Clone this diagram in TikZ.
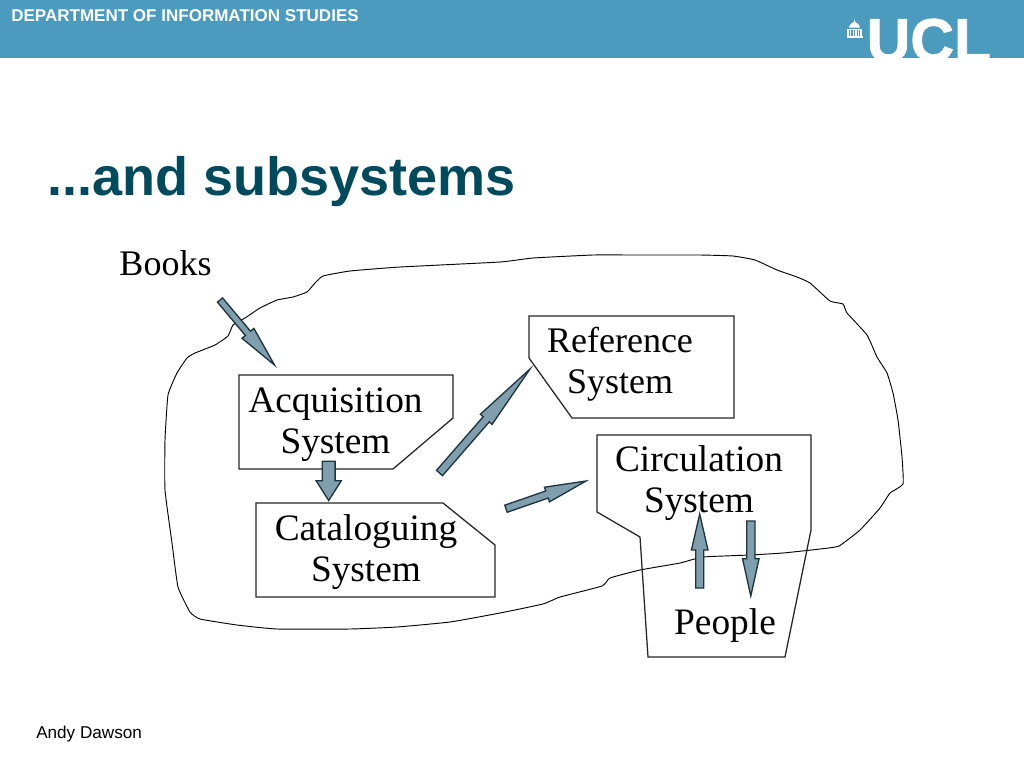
\documentclass[tikz,border=0pt]{standalone}
\usepackage{fontspec}
\setmainfont{Liberation Sans}
\newfontfamily\serifface{Liberation Serif}
\newfontfamily\uclface[BoldFeatures={FakeBold=1.6}]{Liberation Sans}
\usetikzlibrary{calc}
\definecolor{bandblue}{HTML}{4A9BBE}
\definecolor{titleteal}{HTML}{004A5E}
\definecolor{arrowfill}{HTML}{7F9FAE}
\definecolor{arrowline}{HTML}{1E3540}
\tikzset{
  outlineshape/.style={draw=black,line width=0.7pt},
  sysbox/.style={draw=black!85,line width=0.95pt},
  syslabel/.style={font=\serifface\fontsize{28}{30.75}\selectfont,align=center,inner sep=0pt,text=black},
  smalllabel/.style={syslabel,font=\serifface\fontsize{27}{30.75}\selectfont},
  blockstyle/.style={draw=arrowline,fill=arrowfill,line width=1pt,line join=miter}
}
% tail, tip, half shaft, half head, head length (pt)
\newcommand{\blockarrow}[5]{%
  \coordinate (hb) at ($(#2)!#5!(#1)$);
  \draw[blockstyle] ($(#1)!#3!90:(#2)$) -- ($(hb)!#3!90:(#2)$) -- ($(hb)!#4!90:(#2)$) -- (#2)
    -- ($(hb)!#4!-90:(#2)$) -- ($(hb)!#3!-90:(#2)$) -- ($(#1)!#3!-90:(#2)$) -- cycle;
}
\begin{document}
\begin{tikzpicture}[x=0.75pt,y=-0.75pt]
\useasboundingbox (0,0) rectangle (1024,768);
\fill[white] (0,0) rectangle (1024,768);
% header band
\fill[bandblue] (0,0) rectangle (1024,58);
\node[anchor=base west,inner sep=0pt,text=white,font=\bfseries\fontsize{12.77}{15}\selectfont] (dept) at (11,21) {DEPARTMENT OF INFORMATION STUDIES};
\begin{scope}
  \clip (0,0) rectangle (1024,58);
  \node[anchor=base west,inner sep=0pt,text=white,font=\uclface\bfseries\fontsize{45.3}{50}\selectfont] (ucl) at (866.5,61) {UCL};
\end{scope}
% dome emblem
\fill[white] (854.5,19) -- (855.2,22) .. controls (858,23) and (859.5,25) .. (860,27.5) -- (849,27.5) .. controls (849.5,25) and (851,23) .. (853.8,22) -- cycle;
\fill[white] (847,28.5) rectangle (862,30);
\foreach \cx in {848,850.6,853.2,855.8,858.4,861}{\fill[white] (\cx-0.7,30) rectangle (\cx+0.7,35.5);}
\fill[white] (846.5,35.5) rectangle (862.5,38);
% title and footer
\node[anchor=base west,inner sep=0pt,text=titleteal,font=\bfseries\fontsize{40.5}{46}\selectfont] (title) at (47.5,195) {...and subsystems};
\node[anchor=base west,inner sep=0pt,text=black,font=\fontsize{12.85}{15}\selectfont] (foot) at (36,738.5) {Andy Dawson};
% boundary
\draw[outlineshape] plot[smooth cycle,tension=0.25] coordinates {
 (500,262) (400,267) (350,271) (323,276) (315,283) (307,292) (293,297) (277,300) (260,308) (245,318) (233,325) (228,336) (215,345) (195,353) (187,358) (177,373) (168,395) (165,440) (165,490) (172,543) (178,587) (190,612) (200,619) (237,625) (277,629) (350,629) (397,627) (450,622) (500,613) (543,604) (560,597) (602,586) (610,578) (640,570) (680,563) (703,557) (750,555) (783,553) (820,549) (839,546) (860,530) (880,508) (890,493) (903,484) (902,457) (898,420) (893,393) (887,373) (877,357) (867,335) (847,313) (843,304) (830,301) (810,283) (797,277) (777,270) (755,260) (733,256) (700,255) (633,255) (593,255) (533,258)};
% system shapes
\draw[sysbox] (239,375) -- (453,375) -- (453,418) -- (393,469) -- (239,469) -- cycle;
\draw[sysbox] (256,503) -- (443,503) -- (495,545) -- (495,597) -- (256,597) -- cycle;
\draw[sysbox] (529,316) -- (734,316) -- (734,418) -- (572,418) -- (529,358) -- cycle;
\draw[sysbox] (597,435) -- (811,435) -- (811,530) -- (785,657) -- (648,657) -- (640,537) -- (597,512) -- cycle;
% labels
\node[smalllabel,anchor=base] (books) at (165.5,275) {Books};
\node[syslabel] (acq) at (335.5,424.5) {Acquisition\\System};
\node[syslabel] (cat) at (366,552.5) {Cataloguing\\System};
\node[smalllabel] (ref) at (620,364.5) {Reference\\System};
\node[syslabel] (circ) at (699,483.5) {Circulation\\System};
\node[syslabel,anchor=base] (people) at (725,634) {People};
% block arrows
\coordinate (a1) at (220,300); \coordinate (a2) at (274.5,365);
\coordinate (b1) at (328.7,461.3); \coordinate (b2) at (328.7,500.5);
\coordinate (c1) at (439.5,473); \coordinate (c2) at (530,369);
\coordinate (d1) at (506,508.7); \coordinate (d2) at (586,481);
\coordinate (e1) at (699.7,588); \coordinate (e2) at (699.7,514);
\coordinate (f1) at (750.8,521); \coordinate (f2) at (750.8,596);
\blockarrow{a1}{a2}{2.5pt}{5.8pt}{31pt}
\blockarrow{b1}{b2}{4.8pt}{9.4pt}{14.8pt}
\blockarrow{c1}{c2}{3pt}{5.8pt}{50pt}
\blockarrow{d1}{d2}{2.8pt}{5.8pt}{31pt}
\blockarrow{e1}{e2}{3pt}{6.2pt}{27pt}
\blockarrow{f1}{f2}{3.1pt}{6.2pt}{28pt}
\end{tikzpicture}
\end{document}
